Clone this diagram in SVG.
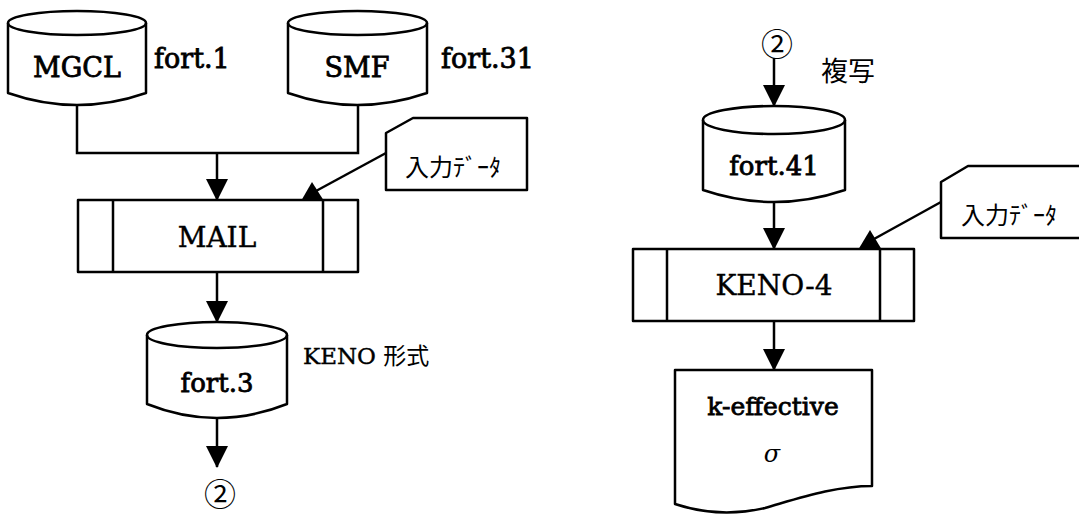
<svg xmlns="http://www.w3.org/2000/svg" width="1079" height="515" viewBox="0 0 1079 515">
<defs>
<marker id="arr" markerUnits="userSpaceOnUse" markerWidth="22" markerHeight="22" viewBox="0 0 22 22" refX="21" refY="11" orient="auto">
<path d="M0,0 L22,11 L0,22 Z" fill="#000"/>
</marker>
</defs>
<style>
.s{fill:#fff;stroke:#000;stroke-width:2.5;stroke-linejoin:round}
.l{fill:none;stroke:#000;stroke-width:2.5}
.a{fill:none;stroke:#000;stroke-width:2.5;marker-end:url(#arr)}
.t{font-family:"DejaVu Serif","Liberation Serif",serif;fill:#000}
.b{stroke:#000;stroke-width:0.8}
.m{stroke:#000;stroke-width:0.4}
.c{text-anchor:middle}
.j{font-family:"Noto Sans CJK JP","Noto Sans",sans-serif;fill:#000}
</style>
<rect width="1079" height="515" fill="#fff"/>

<g id="connectors">
<path class="l" d="M77,105 V153 H358 V105"/>
<path class="a" d="M217,153 V200"/>
<path class="l" d="M386,153 L316,191"/>
<polygon points="301,201 324,201 312,182" fill="#000"/>
<path class="a" d="M217,272 V322"/>
<path class="a" d="M217,418 V467"/>
<path class="a" d="M774,58 V106"/>
<path class="a" d="M774,202 V249"/>
<path class="l" d="M941,202 L874,239"/>
<polygon points="858,250 882,250 870,230" fill="#000"/>
<path class="a" d="M774,321 V370"/>
</g>

<g id="mgcl">
<path class="s" d="M8,23 A69,12 0 0 1 146,23 V93 Q77,117 8,93 Z"/>
<path class="l" d="M8,23 A69,12 0 0 0 146,23"/>
<text class="t b c" x="77" y="77" font-size="27">MGCL</text>
<text class="t b" x="154" y="68" font-size="27">fort.1</text>
</g>

<g id="smf">
<path class="s" d="M288,23 A69,12 0 0 1 427,23 V93 Q357,117 288,93 Z"/>
<path class="l" d="M288,23 A69,12 0 0 0 427,23"/>
<text class="t b c" x="357" y="77" font-size="27">SMF</text>
<text class="t b" x="441" y="68" font-size="27">fort.31</text>
</g>

<g id="note1">
<polygon class="s" points="386,133 413,118 527,118 527,190 386,190"/>
<text class="j" x="405" y="176" font-size="24">入力ﾃﾞｰﾀ</text>
</g>

<g id="mail">
<rect class="s" x="78" y="200" width="280" height="72"/>
<path class="l" d="M113,200 V272 M323,200 V272"/>
<text class="t m c" x="217" y="247" font-size="28">MAIL</text>
</g>

<g id="fort3">
<path class="s" d="M147,335 A70,13 0 0 1 287,335 V404 Q217,432 147,404 Z"/>
<path class="l" d="M147,335 A70,13 0 0 0 287,335"/>
<text class="t b c" x="217" y="392" font-size="26">fort.3</text>
<text class="t m" x="303" y="364" font-size="23">KENO <tspan class="j" stroke-width="0">形式</tspan></text>
</g>

<g id="conn2a">
<text class="j c" x="220" y="506" font-size="32">②</text>
</g>

<g id="conn2b">
<text class="j c" x="777" y="56" font-size="32">②</text>
<text class="j" x="821" y="81" font-size="27">複写</text>
</g>

<g id="fort41">
<path class="s" d="M703,120 A71,14 0 0 1 845,120 V190 Q774,214 703,190 Z"/>
<path class="l" d="M703,120 A71,14 0 0 0 845,120"/>
<text class="t b c" x="774" y="175" font-size="26">fort.41</text>
</g>

<g id="note2">
<polygon class="s" points="941,182 968,166 1090,166 1090,238 941,238"/>
<text class="j" x="961" y="224" font-size="24">入力ﾃﾞｰﾀ</text>
</g>

<g id="keno4">
<rect class="s" x="633" y="249" width="281" height="72"/>
<path class="l" d="M667,249 V321 M880,249 V321"/>
<text class="t m c" x="774" y="295" font-size="28">KENO-4</text>
</g>

<g id="output">
<path class="s" d="M675,370 H872 V486 C835,486 800,498 765,508 C735,515 705,514 675,504 Z"/>
<text class="t b c" x="773" y="415" font-size="25">k-effective</text>
<text class="t c" x="772" y="462" font-size="24" font-style="italic">σ</text>
</g>
</svg>
